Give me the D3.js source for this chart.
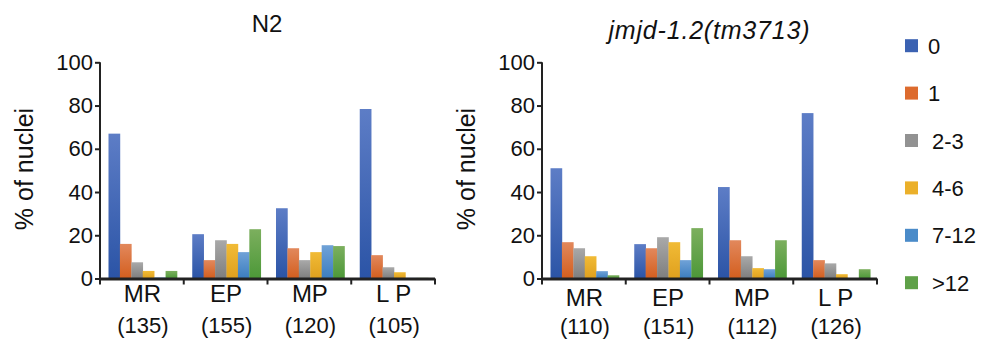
<!DOCTYPE html>
<html>
<head>
<meta charset="utf-8">
<script src="https://cdn.jsdelivr.net/npm/d3@7"></script>
<style>
  body { margin: 0; background: #fff; }
  svg text { font-family: "Liberation Sans", Arial, sans-serif; fill: #111; }
</style>
</head>
<body>
<svg id="chart" width="985" height="345"></svg>
<script>
const categories = ["MR", "EP", "MP", "L P"];
const series = ["0", "1", "2-3", "4-6", "7-12", ">12"];
const yTicks = [0, 20, 40, 60, 80, 100];

const n2Counts = ["(135)", "(155)", "(120)", "(105)"];
const mutCounts = ["(110)", "(151)", "(112)", "(126)"];

// rows = categories, columns = series
const n2Values = [
    [67, 16, 7.5, 3.5, 0.5, 3.5],
    [20.5, 8.5, 17.7, 16, 12.2, 22.8],
    [32.5, 14, 8.5, 12.2, 15.4, 15],
    [78.4, 10.8, 5.2, 2.9, 0.3, 0.3]
];
const mutValues = [
    [51, 16.8, 14, 10.3, 3.4, 1.5],
    [15.9, 14, 19.1, 16.8, 8.5, 23.3],
    [42.3, 17.7, 10.3, 4.8, 4.3, 17.7],
    [76.5, 8.5, 7, 2, 0, 4.3]
];

const colorTop = ["#5d7dc6", "#e2885c", "#a9a9a9", "#f1bb36", "#70a2d7", "#7caf5e"];
const colorBottom = ["#2b54a6", "#d35e1e", "#7e7e7e", "#dfa01e", "#3b7dbf", "#4c9838"];
const colorLegend = ["#3b62b2", "#dd6b2e", "#929292", "#ebb02a", "#4a8bc9", "#5fa148"];

const svg = d3.select("#chart");

const defs = svg.append("defs");
series.forEach((s, i) => {
    const g = defs.append("linearGradient")
        .attr("id", "grad" + i)
        .attr("x1", 0).attr("y1", 0).attr("x2", 0).attr("y2", 1);
    g.append("stop").attr("offset", "0%").attr("stop-color", colorTop[i]);
    g.append("stop").attr("offset", "100%").attr("stop-color", colorBottom[i]);
});

const y = d3.scaleLinear().domain([0, 100]).range([278.5, 62.3]);

function drawPanel(left, values, counts, title, italic, catY, cntY) {
    const x0 = d3.scaleBand().domain(categories).range([left, left + 335]).padding(0);
    const x1 = d3.scaleBand().domain(series).range([8.5, 77]).padding(0);

    const g = svg.append("g");

    g.selectAll(".grp")
        .data(values)
        .enter()
        .append("g")
        .attr("transform", (d, i) => `translate(${x0(categories[i])},0)`)
        .selectAll("rect")
        .data(d => d)
        .enter()
        .append("rect")
        .attr("x", (d, i) => x1(series[i]))
        .attr("width", x1.bandwidth() + 0.3)
        .attr("y", d => y(d))
        .attr("height", d => y(0) - y(d))
        .attr("fill", (d, i) => `url(#grad${i})`);

    // y axis
    const yAxis = g.append("g")
        .attr("transform", `translate(${left},0)`)
        .call(d3.axisLeft(y).tickValues(yTicks).tickSize(5).tickPadding(2));
    yAxis.select(".domain").attr("stroke", "#222").attr("stroke-width", 2)
        .attr("d", `M0,${y(100)}V${y(0)}`);
    yAxis.selectAll(".tick line").attr("stroke", "#222").attr("stroke-width", 2);
    yAxis.selectAll(".tick text")
        .attr("font-size", 22)
        .attr("fill", "#111")
        .attr("font-family", "Liberation Sans, Arial, sans-serif");

    // x axis line with ticks at band edges
    g.append("line")
        .attr("x1", left).attr("x2", left + 335)
        .attr("y1", y(0) + 0.5).attr("y2", y(0) + 0.5)
        .attr("stroke", "#222").attr("stroke-width", 3);
    const edges = categories.map(c => x0(c)).concat([left + 335]);
    g.selectAll(".xt")
        .data(edges)
        .enter()
        .append("line")
        .attr("x1", d => d).attr("x2", d => d)
        .attr("y1", y(0)).attr("y2", y(0) + 6)
        .attr("stroke", "#222").attr("stroke-width", 2);

    g.selectAll(".cat")
        .data(categories)
        .enter()
        .append("text")
        .attr("x", d => x0(d) + x0.bandwidth() / 2 + 0.5)
        .attr("y", catY)
        .attr("text-anchor", "middle")
        .attr("font-size", 24)
        .text(d => d);

    g.selectAll(".cnt")
        .data(counts)
        .enter()
        .append("text")
        .attr("x", (d, i) => x0(categories[i]) + x0.bandwidth() / 2 + 1)
        .attr("y", cntY)
        .attr("text-anchor", "middle")
        .attr("font-size", 22)
        .text(d => d);

    g.append("text")
        .attr("transform", `translate(${left - 67},169) rotate(-90)`)
        .attr("text-anchor", "middle")
        .attr("font-size", 25)
        .text("% of nuclei");

    const t = g.append("text")
        .attr("x", left + 167)
        .attr("y", italic ? 39 : 32)
        .attr("text-anchor", "middle")
        .attr("font-size", italic ? 25 : 24)
        .attr("font-style", italic ? "italic" : "normal")
        .text(title);
    if (italic) t.attr("textLength", 201).attr("lengthAdjust", "spacing");
}

drawPanel(100, n2Values, n2Counts, "N2", false, 302, 333);
drawPanel(542, mutValues, mutCounts, "jmjd-1.2(tm3713)", true, 306, 334);

// legend
const legend = svg.append("g");
const ly = d3.scalePoint().domain(series).range([45.7, 282.7]);
legend.selectAll("rect")
    .data(series)
    .enter()
    .append("rect")
    .attr("x", 905)
    .attr("y", d => ly(d) - 6.5)
    .attr("width", 13)
    .attr("height", 13)
    .attr("fill", (d, i) => colorLegend[i]);
legend.selectAll("text")
    .data(series)
    .enter()
    .append("text")
    .attr("x", (d, i) => i < 2 ? 928 : 932)
    .attr("y", d => ly(d) + 8)
    .attr("font-size", 22)
    .text(d => d);
</script>
</body>
</html>
